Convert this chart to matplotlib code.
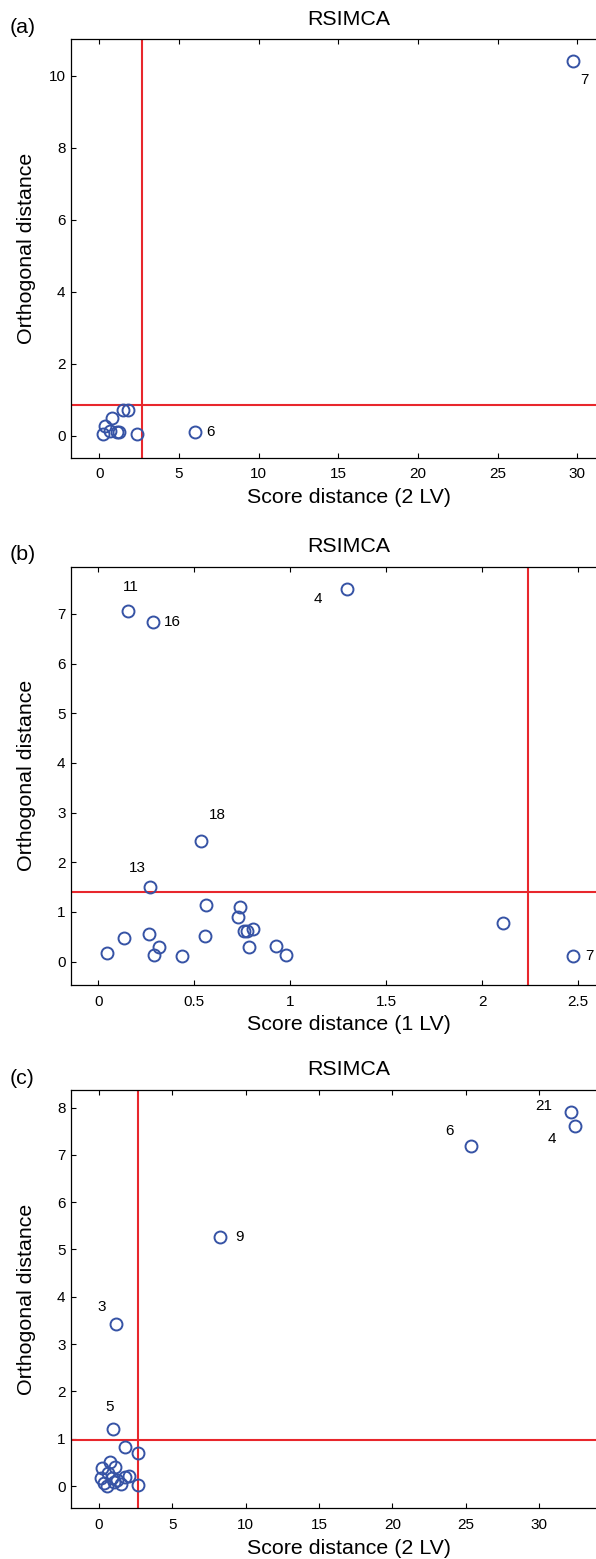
import matplotlib
matplotlib.use('Agg')
import matplotlib.pyplot as plt

plt.rcParams['font.family'] = ['Liberation Sans', 'DejaVu Sans']

# (a) RSIMCA, 2 LV
a_sd = [0.25, 0.36, 0.78, 0.67, 1.09, 1.22, 1.51, 1.78, 2.39, 6.01, 29.76]
a_od = [0.04, 0.28, 0.48, 0.14, 0.11, 0.10, 0.71, 0.70, 0.04, 0.09, 10.41]
a_lab = {9: '6', 10: '7'}
a_cut = (2.66, 0.84)

# (b) RSIMCA, 1 LV
b_sd = [0.047, 0.136, 0.266, 0.292, 0.314, 0.438, 0.269, 0.559, 0.554, 0.740,
        0.728, 0.759, 0.776, 0.807, 0.787, 0.927, 0.978, 2.11, 2.474,
        0.157, 0.283, 1.294, 0.535]
b_od = [0.17, 0.48, 0.55, 0.13, 0.29, 0.11, 1.50, 1.15, 0.52, 1.11,
        0.90, 0.61, 0.62, 0.65, 0.29, 0.32, 0.14, 0.77, 0.12,
        7.06, 6.83, 7.50, 2.43]
b_lab = {6: '13', 18: '7', 19: '11', 20: '16', 21: '4', 22: '18'}
b_cut = (2.24, 1.41)

# (c) RSIMCA, 2 LV
c_sd = [0.23, 0.75, 1.09, 0.14, 0.36, 0.52, 0.86, 1.20, 1.48, 1.77, 2.07,
        0.64, 1.05, 1.77, 2.68, 2.68, 0.98, 1.14, 8.26, 25.39, 32.15, 32.45]
c_od = [0.39, 0.51, 0.41, 0.18, 0.06, 0.00, 0.16, 0.13, 0.04, 0.20, 0.21,
        0.27, 0.09, 0.83, 0.69, 0.02, 1.21, 3.42, 5.26, 7.19, 7.90, 7.60]
c_lab = {16: '5', 17: '3', 18: '9', 19: '6', 20: '21', 21: '4'}
c_cut = (2.66, 0.965)

# label offsets in pixels (dx right, dy down)
offs = {
    'a': {'6': (15, 0), '7': (11, 19)},
    'b': {'13': (-13, -19), '7': (16, 0), '11': (2, -24), '16': (20, 0),
          '4': (-29, 10), '18': (16, -26)},
    'c': {'5': (-4, -22), '3': (-14, -17), '9': (19, 0), '6': (-22, -15),
          '21': (-27, -6), '4': (-23, 13)},
}

W, H = 596, 1559
blue = '#3653a5'
red = '#e8272c'

fig = plt.figure(figsize=(W / 100, H / 100), dpi=100)

panels = [
    ('a', a_sd, a_od, a_lab, a_cut, 39.3, (-1.81, 33.13), (-0.61, 11.02),
     list(range(0, 31, 5)), list(range(0, 11, 2)), 'Score distance (2 LV)'),
    ('b', b_sd, b_od, b_lab, b_cut, 566.7, (-0.145, 2.754), (-0.47, 7.95),
     [0, 0.5, 1, 1.5, 2, 2.5], list(range(0, 8)), 'Score distance (1 LV)'),
    ('c', c_sd, c_od, c_lab, c_cut, 1090, (-1.95, 36.0), (-0.47, 8.37),
     list(range(0, 31, 5)), list(range(0, 9)), 'Score distance (2 LV)'),
]

left, right, ah = 70.5, 627, 418.3
for key, sd, od, lab, cut, top, xl, yl, xt, yt, xlab in panels:
    ax = fig.add_axes([left / W, 1 - (top + ah) / H, (right - left) / W, ah / H])
    ax.plot(sd, od, 'o', mfc='none', mec=blue, ms=8.6, mew=1.4, zorder=3)
    ax.axvline(cut[0], color=red, lw=1.5, zorder=2)
    ax.axhline(cut[1], color=red, lw=1.5, zorder=2)
    for i, t in lab.items():
        dx, dy = offs[key][t]
        ax.annotate(t, (sd[i], od[i]), xytext=(dx * 0.72, -dy * 0.72),
                    textcoords='offset points', ha='center', va='center',
                    fontsize=11, annotation_clip=False)
    ax.set_xlim(xl)
    ax.set_ylim(yl)
    ax.set_xticks(xt)
    ax.set_xticklabels(['%g' % v for v in xt])
    ax.set_yticks(yt)
    ax.tick_params(direction='in', top=True, right=True, length=3.8,
                   width=0.8, labelsize=11)
    ax.tick_params(axis='x', pad=7)
    ax.tick_params(axis='y', pad=3.6)
    for s in ax.spines.values():
        s.set_linewidth(0.9)
    ax.set_xlabel(xlab, fontsize=15.4)
    ax.xaxis.set_label_coords(0.5, -30.5 / ah)
    ax.set_ylabel('Orthogonal distance', fontsize=15.4)
    ax.yaxis.set_label_coords((36 - left) / (right - left), 0.5)
    ax.set_title('RSIMCA', fontsize=15.4, pad=10.5)
    fig.text(10 / W, 1 - (top - 12) / H, '(%s)' % key, fontsize=15.4,
             ha='left', va='center')

fig.savefig('out.png', dpi=100)
